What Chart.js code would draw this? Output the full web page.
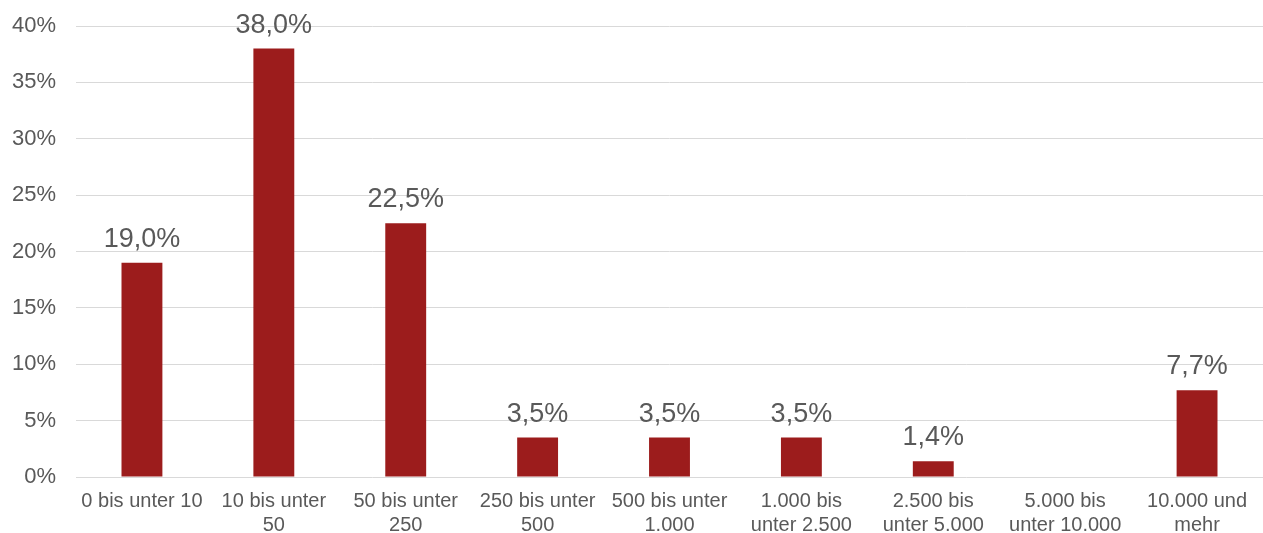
<!DOCTYPE html>
<html>
<head>
<meta charset="utf-8">
<script src="https://cdn.jsdelivr.net/npm/chart.js@4"></script>
<style>
  html, body { margin: 0; padding: 0; background: #fff; }
  #wrap { width: 1263px; height: 533px; }
</style>
</head>
<body>
<div id="wrap"><canvas id="sizeChart"></canvas></div>
<script>
// categories (multi-line labels) and shares in percent
var categories = [
    ['0 bis unter 10'],
    ['10 bis unter', '50'],
    ['50 bis unter', '250'],
    ['250 bis unter', '500'],
    ['500 bis unter', '1.000'],
    ['1.000 bis', 'unter 2.500'],
    ['2.500 bis', 'unter 5.000'],
    ['5.000 bis', 'unter 10.000'],
    ['10.000 und', 'mehr']
];
var shares = [19.0, 38.0, 22.5, 3.5, 3.5, 3.5, 1.4, 0, 7.7];
var yTicks = [0, 5, 10, 15, 20, 25, 30, 35, 40];

function fmt(v) {
    return v.toFixed(1).replace('.', ',') + '%';
}

// draws the value above each bar
var valueLabels = {
    id: 'valueLabels',
    afterDatasetsDraw: function(chart) {
        var ctx = chart.ctx;
        var meta = chart.getDatasetMeta(0);
        ctx.save();
        ctx.font = '27px "Liberation Sans", Arial, sans-serif';
        ctx.fillStyle = '#595959';
        ctx.textAlign = 'center';
        ctx.textBaseline = 'alphabetic';
        meta.data.forEach(function(bar, i) {
            var v = shares[i];
            if (!v) return;
            ctx.fillText(fmt(v), bar.x, bar.y - 16);
        });
        ctx.restore();
    }
};

window.onload = function() {
    var ctx = document.getElementById('sizeChart').getContext('2d');
    new Chart(ctx, {
        type: 'bar',
        data: {
            labels: categories,
            datasets: [{
                data: shares,
                backgroundColor: '#9C1C1C',
                borderWidth: 0,
                barPercentage: 0.31,
                categoryPercentage: 1
            }]
        },
        options: {
            responsive: true,
            maintainAspectRatio: false,
            animation: false,
            layout: { padding: { top: 26, right: 0, left: 0, bottom: 0 } },
            plugins: {
                legend: { display: false },
                tooltip: { enabled: false }
            },
            scales: {
                x: {
                    grid: { display: false },
                    border: { display: false },
                    ticks: {
                        color: '#595959',
                        font: { family: '"Liberation Sans", Arial, sans-serif', size: 20, lineHeight: 1.2 },
                        padding: 4,
                        maxRotation: 0,
                        autoSkip: false
                    },
                    afterFit: function(scale) {
                        scale.height = 56;
                        scale.paddingLeft = 0;
                        scale.paddingRight = 0;
                    }
                },
                y: {
                    min: 0,
                    max: 40,
                    afterBuildTicks: function(scale) {
                        scale.ticks = yTicks.map(function(v) { return { value: v }; });
                    },
                    grid: { color: '#d9d9d9', lineWidth: 1, drawTicks: false },
                    border: { display: false },
                    ticks: {
                        color: '#595959',
                        font: { family: '"Liberation Sans", Arial, sans-serif', size: 22 },
                        padding: 20,
                        callback: function(v) { return v + '%'; }
                    },
                    afterFit: function(scale) {
                        scale.width = 76;
                        scale.paddingTop = 0;
                        scale.paddingBottom = 0;
                    }
                }
            }
        },
        plugins: [valueLabels]
    });
};
</script>
</body>
</html>
